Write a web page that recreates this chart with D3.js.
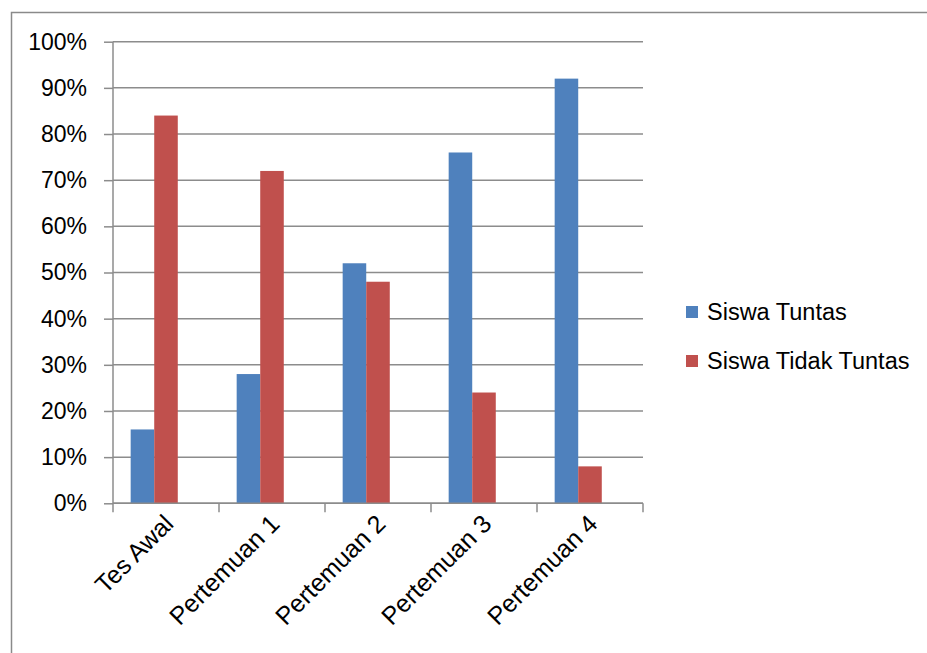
<!DOCTYPE html>
<html>
<head>
<meta charset="utf-8">
<script src="https://cdn.jsdelivr.net/npm/d3@7"></script>
<style>
  html, body { margin: 0; padding: 0; background: #fff; }
  svg { display: block; }
  text { font-family: "Liberation Sans", Arial, sans-serif; fill: #000; }
</style>
</head>
<body>
<svg id="chart" width="927" height="653"></svg>
<script>
// Categories and series values (percent of students)
const categories = ["Tes Awal", "Pertemuan 1", "Pertemuan 2", "Pertemuan 3", "Pertemuan 4"];
const seriesNames = ["Siswa Tuntas", "Siswa Tidak Tuntas"];
const tuntas = [16, 28, 52, 76, 92];
const tidakTuntas = [84, 72, 48, 24, 8];
const yTicks = [0, 10, 20, 30, 40, 50, 60, 70, 80, 90, 100];
const colors = ["#4F81BD", "#C0504D"];

const svg = d3.select("#chart");
const W = 927, H = 653;

// outer frame
svg.append("rect")
  .attr("x", 11.5).attr("y", 12.5)
  .attr("width", W + 10).attr("height", H + 10)
  .attr("fill", "none").attr("stroke", "#8a8a8a").attr("stroke-width", 1.5);

const plot = { left: 113, right: 643, top: 41.7, bottom: 503.3 };

const y = d3.scaleLinear().domain([0, 100]).range([plot.bottom, plot.top]);
const x0 = d3.scaleBand().domain(categories).range([plot.left, plot.right]).padding(0);
const x1 = d3.scaleBand().domain(seriesNames).range([0, x0.bandwidth()])
  .paddingInner(0).paddingOuter(1.25).align(0.3);

const g = svg.append("g");

// horizontal gridlines
g.selectAll("line.grid").data(yTicks).enter().append("line")
  .attr("x1", plot.left).attr("x2", plot.right)
  .attr("y1", d => y(d)).attr("y2", d => y(d))
  .attr("stroke", "#8c8c8c").attr("stroke-width", 1.5);

// y axis
const yAxis = d3.axisLeft(y).tickValues(yTicks).tickFormat(d => d + "%").tickSize(9).tickPadding(17);
const ya = g.append("g").attr("transform", `translate(${plot.left},0)`).call(yAxis);
ya.select(".domain").attr("stroke", "#8c8c8c").attr("stroke-width", 1.5).attr("d", `M0,${plot.top}V${plot.bottom}`);
ya.selectAll(".tick line").attr("stroke", "#8c8c8c").attr("stroke-width", 1.5);
ya.selectAll(".tick text").attr("font-size", 23).attr("font-family", "Liberation Sans, Arial, sans-serif").attr("fill", "#000");

// bars
const rows = categories.map((c, i) => ({ cat: c, vals: [tuntas[i], tidakTuntas[i]] }));
const groups = g.selectAll("g.cat").data(rows).enter().append("g")
  .attr("transform", d => `translate(${x0(d.cat)},0)`);
groups.selectAll("rect").data(d => d.vals.map((v, k) => ({ key: seriesNames[k], v, k }))).enter().append("rect")
  .attr("x", d => x1(d.key))
  .attr("width", x1.bandwidth())
  .attr("y", d => y(d.v))
  .attr("height", d => y(0) - y(d.v))
  .attr("fill", d => colors[d.k]);

// x axis with category boundary ticks
const xa = g.append("g").attr("transform", `translate(0,${plot.bottom})`);
xa.append("line").attr("x1", plot.left).attr("x2", plot.right)
  .attr("stroke", "#8c8c8c").attr("stroke-width", 1.5);
const bounds = categories.map(c => x0(c)).concat([plot.right]);
xa.selectAll("line.t").data(bounds).enter().append("line")
  .attr("x1", d => d).attr("x2", d => d).attr("y1", 0).attr("y2", 9)
  .attr("stroke", "#8c8c8c").attr("stroke-width", 1.5);
xa.selectAll("text").data(categories).enter().append("text")
  .attr("transform", d => `translate(${x0(d) + x0.bandwidth() / 2 + 9},${22}) rotate(-45)`)
  .attr("text-anchor", "end")
  .attr("font-size", 25)
  .text(d => d);

// legend
const legend = svg.append("g").attr("transform", "translate(686,300)");
const li = legend.selectAll("g").data(seriesNames).enter().append("g")
  .attr("transform", (d, i) => `translate(0,${i * 49})`);
li.append("rect").attr("x", 0).attr("y", 6).attr("width", 12).attr("height", 12)
  .attr("fill", (d, i) => colors[i]);
li.append("text").attr("x", 21).attr("y", 20).attr("font-size", 23.5).text(d => d);
</script>
</body>
</html>
